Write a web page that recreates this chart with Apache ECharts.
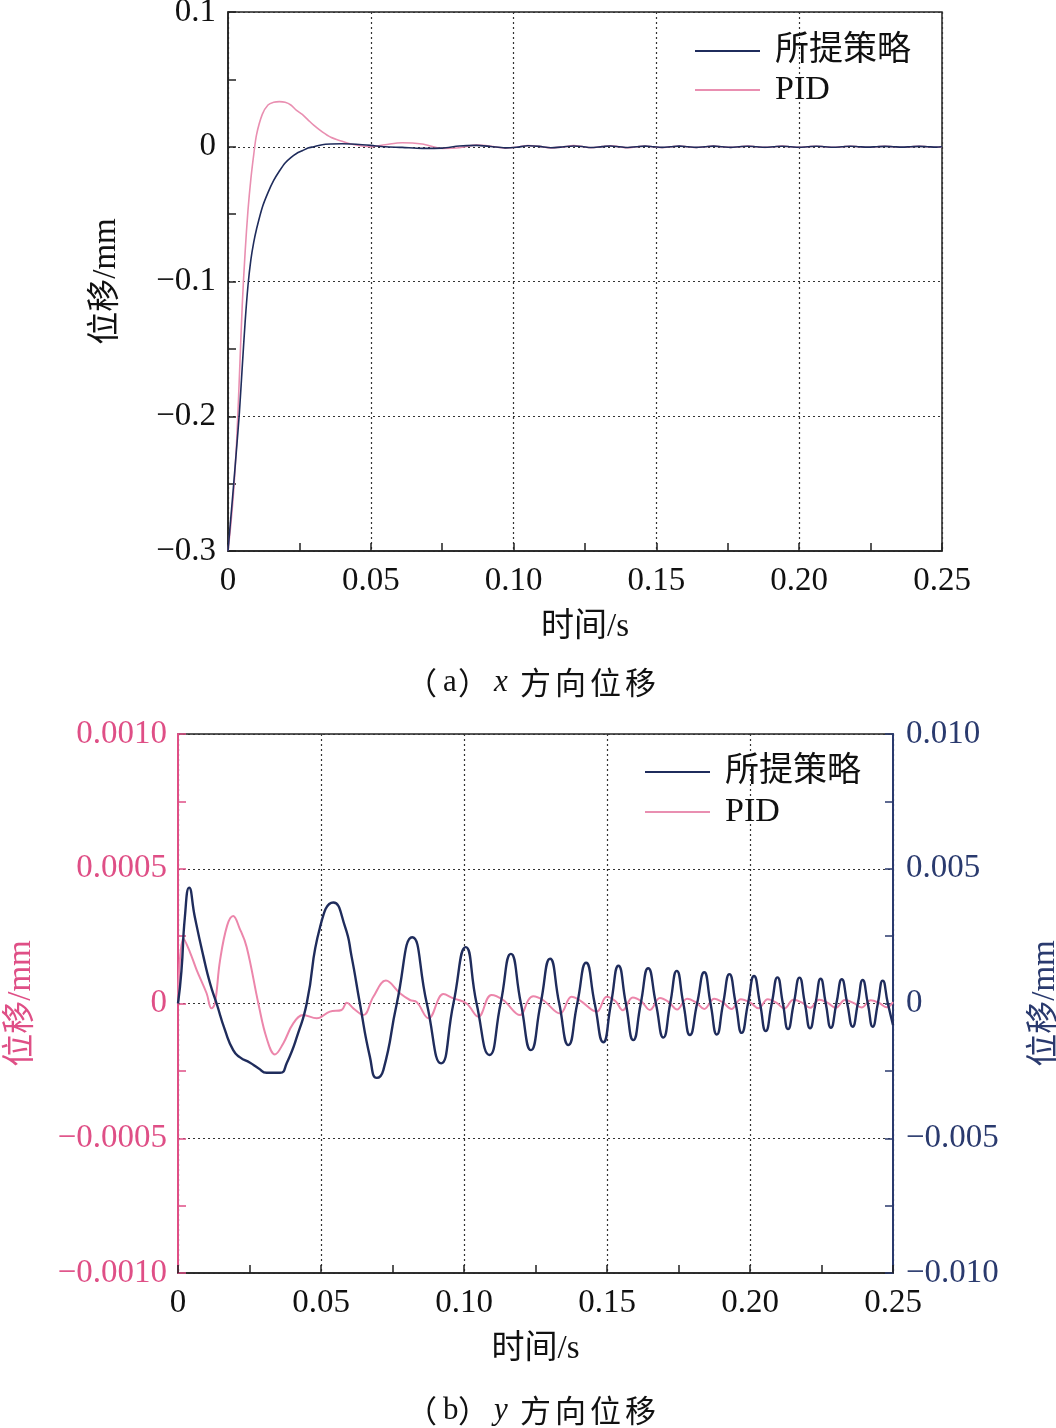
<!DOCTYPE html>
<html>
<head>
<meta charset="utf-8">
<script src="https://cdn.jsdelivr.net/npm/echarts@6/dist/echarts.min.js"></script>
<style>
html,body{margin:0;padding:0;background:#fff;}
#chart{width:1056px;height:1428px;}
</style>
</head>
<body>
<div id="chart"></div>
<script>
// ---------- (a) x-direction displacement ----------
const topTime = [0,0.001,0.002,0.003,0.004,0.005,0.006,0.007,0.008,0.009,0.010,0.012,0.014,0.016,0.018,0.020,0.022,0.024,0.026,0.028,0.030,0.033,0.036,0.040,0.043,0.047,0.050,
  0.055,0.061,0.068,0.075,0.081,0.087,0.092,0.097,0.101,0.105,0.109,0.113,0.117,0.121,0.124,0.127,0.131,0.134,0.137,0.140,0.143,0.146,0.149,0.152,0.155,0.158,
  0.161,0.164,0.167,0.170,0.173,0.176,0.179,0.182,0.185,0.188,0.191,0.194,0.197,0.200,0.203,0.206,0.209,0.212,0.215,0.218,0.221,0.224,0.227,0.230,0.233,0.236,
  0.239,0.242,0.245,0.248,0.250];
const topProposed = [-0.300,-0.275,-0.250,-0.224,-0.197,-0.163,-0.130,-0.103,-0.084,-0.071,-0.061,-0.045,-0.034,-0.025,-0.018,-0.012,-0.008,-0.005,-0.003,-0.001,0.000,0.0015,0.002,0.0022,0.002,0.0015,0.001,
  0.000,-0.0005,-0.0012,-0.0010,0.0006,0.0010,0.0002,-0.0008,-0.0004,0.0007,0.0003,-0.0007,-0.0002,0.0006,0.0002,-0.0006,0.0001,0.0006,0.0000,-0.0006,0.0000,0.0005,0.0000,-0.0005,0.0000,0.0005,
  0.0000,-0.0005,0.0000,0.0005,0.0000,-0.0005,0.0000,0.0004,0.0000,-0.0004,0.0000,0.0004,0.0000,-0.0004,0.0000,0.0004,0.0000,-0.0004,0.0000,0.0004,0.0000,-0.0003,0.0000,0.0003,0.0000,-0.0003,
  0.0000,0.0003,0.0000,-0.0003,0.0000];
const topPID = [-0.300,-0.280,-0.255,-0.220,-0.170,-0.117,-0.078,-0.047,-0.024,-0.006,0.009,0.024,0.031,0.033,0.0335,0.033,0.031,0.027,0.024,0.020,0.016,0.011,0.007,0.004,0.002,0.0005,0.000,
  0.0015,0.0030,0.0020,-0.0012,-0.0008,0.0012,0.0004,-0.0010,-0.0004,0.0009,0.0003,-0.0008,-0.0002,0.0008,0.0002,-0.0007,0.0001,0.0007,0.0000,-0.0007,0.0000,0.0006,0.0000,-0.0006,0.0000,0.0006,
  0.0000,-0.0006,0.0000,0.0005,0.0000,-0.0005,0.0000,0.0005,0.0000,-0.0005,0.0000,0.0005,0.0000,-0.0005,0.0000,0.0004,0.0000,-0.0004,0.0000,0.0004,0.0000,-0.0004,0.0000,0.0004,0.0000,-0.0004,
  0.0000,0.0004,0.0000,-0.0004,0.0000];

// ---------- (b) y-direction displacement ----------
const botProposedTime = [0,0.0012,0.0024,0.0039,0.0059,0.0089,0.0112,0.0135,0.0164,0.0193,0.0217,0.0252,0.0281,0.031,0.0357,0.038,0.042,0.045,0.0497,0.0543,0.0584,0.0607,0.0636,
  0.0671,0.0695,0.0718,0.0765,0.0819,0.087,0.092,0.0963,0.1006,0.1044,0.1089,0.1128,0.1164,0.1199,0.1234,0.1268,0.1301,0.1333,0.1365,0.1396,0.1427,0.1457,0.1487,0.1514,
  0.154,0.1566,0.1592,0.1618,0.1644,0.1671,0.1697,0.1721,0.1744,0.1767,0.179,0.1815,0.184,0.1862,0.1884,0.1906,0.1928,0.195,0.1971,0.1993,0.2014,0.2035,0.2055,0.2076,
  0.2096,0.2115,0.2133,0.2153,0.2173,0.2192,0.221,0.2229,0.2247,0.2265,0.2283,0.2302,0.2321,0.234,0.2359,0.2377,0.2394,0.2412,0.2429,0.2447,0.2464,0.2482,0.25];
const botProposed = [0,0.0012,0.0032,0.0043,0.0032,0.00174,0.00075,0,-0.00098,-0.00173,-0.0020,-0.0022,-0.0024,-0.00257,-0.00257,-0.00222,-0.0011,0,0.00285,0.00375,0.00285,0.00174,0,
  -0.00198,-0.00276,-0.00247,0,0.00246,0,-0.00222,0,0.00209,0,-0.00191,0,0.00184,0,-0.00173,0,0.00166,0,-0.00154,0,0.00151,0,-0.00144,0,
  0.0014,0,-0.00136,0,0.00131,0,-0.00126,0,0.00121,0,-0.00117,0,0.00116,0,-0.00115,0,0.00109,0,-0.00109,0,0.00102,0,-0.00102,0,
  0.00097,0,-0.00095,0,0.00096,0,-0.00092,0,0.00092,0,-0.0009,0,0.0009,0,-0.00086,0,0.00087,0,-0.00086,0,0.00085,0,-0.0008];
const botPIDTime = [0,0.0019,0.0042,0.0065,0.010,0.0117,0.0129,0.0147,0.0172,0.0193,0.0215,0.024,0.0281,0.031,0.0339,0.0368,0.0403,0.0438,0.0485,0.0531,0.0572,0.059,0.0613,
  0.0648,0.0683,0.0727,0.0776,0.0811,0.0835,0.0876,0.0928,0.0963,0.1009,0.105,0.1096,0.1137,0.1196,0.1225,0.1242,0.1277,0.1336,0.1376,0.1405,0.1464,0.1499,0.1530,
  0.1555,0.1590,0.1620,0.1650,0.1685,0.1715,0.1745,0.1780,0.1810,0.1840,0.1875,0.1905,0.1935,0.1968,0.2000,0.2030,0.2062,0.2092,0.2120,0.2152,0.2182,0.2210,0.2242,
  0.2272,0.2300,0.2332,0.2362,0.2390,0.2422,0.2452,0.2478,0.2500];
const botPID = [0,0.000242,0.00019,0.000125,0.000038,-0.000018,0,0.00016,0.00029,0.000325,0.00028,0.00021,0,-0.000129,-0.000189,-0.000148,-0.000074,-0.000043,-0.000055,-0.00003,-0.000024,0.000003,-0.000018,
  -0.000043,0.000025,0.000085,0.000038,0.000013,0.000005,-0.000055,0.000035,0.000019,0,-0.000049,0.000032,0.000013,-0.000043,0.000013,0.000027,0.000012,-0.000037,0.000025,0.000012,-0.00003,0.000025,0.000008,
  -0.000025,0.000022,0.000008,-0.000024,0.00002,0.000006,-0.000022,0.000018,0.000005,-0.00002,0.000018,0.000004,-0.00002,0.000016,0.000004,-0.000018,0.000016,0.000003,-0.000018,0.000014,0.000003,-0.000016,0.000014,
  0.000002,-0.000016,0.000013,0.000002,-0.000015,0.000012,0.000002,-0.000014,0.000005];

const seriesNames = ['所提策略', 'PID'];
const xTicks = ['0', '0.05', '0.10', '0.15', '0.20', '0.25'];
const topYTicks = ['−0.3', '−0.2', '−0.1', '0', '0.1'];
const botLeftTicks = ['−0.0010', '−0.0005', '0', '0.0005', '0.0010'];
const botRightTicks = ['−0.010', '−0.005', '0', '0.005', '0.010'];

const zip = (t, v) => t.map((x, i) => [x, v[i]]);
const FONT = "'Liberation Serif', 'Noto Sans CJK SC', serif";
const CJK = "'Noto Sans CJK SC', serif";
const NAVY = '#1f2c5c';
const PINK = '#e98fb1';
const PINK_AX = '#df4f86';
const NAVY_AX = '#2a3a6e';
const FS = 33;

function tickIdx(v, min, step) { return Math.round((v - min) / step); }

function xAxisCfg(gridIndex) {
  return {
    type: 'value', gridIndex: gridIndex, min: 0, max: 0.25, interval: 0.05,
    name: '时间/s', nameLocation: 'middle', nameGap: 60,
    nameTextStyle: { fontFamily: FONT, fontSize: FS, color: '#111' },
    axisLine: { show: true, onZero: false, lineStyle: { color: '#222', width: 1.5 } },
    axisTick: { show: true, inside: true, length: 8, lineStyle: { color: '#222', width: 1.5 } },
    minorTick: { show: true, splitNumber: 2, length: 8, lineStyle: { color: '#222', width: 1.5 } },
    axisLabel: { fontFamily: FONT, fontSize: FS, color: '#111', margin: 14,
      formatter: v => xTicks[tickIdx(v, 0, 0.05)] },
    splitLine: { show: true, lineStyle: { color: '#333', type: [2, 3], width: 1.2 } }
  };
}

const base = { fontSize: 31, fontWeight: 'normal', color: '#111' };
const richCap = {
  l: Object.assign({ fontFamily: CJK, width: 37, align: 'left' }, base),
  a: Object.assign({ fontFamily: FONT, width: 15, align: 'left' }, base),
  r: Object.assign({ fontFamily: CJK, width: 36, align: 'left' }, base),
  i: Object.assign({ fontFamily: FONT, fontStyle: 'italic', width: 26, align: 'left' }, base),
  c: Object.assign({ fontFamily: CJK, width: 35, align: 'left' }, base)
};

const option = {
  backgroundColor: '#fff',
  animation: false,
  title: [
    { text: '{l|（}{a|a}{r|）}{i|x}{c|方}{c|向}{c|位}{c|移}', left: 401, top: 662, textStyle: { fontWeight: 'normal', rich: richCap } },
    { text: '{l|（}{a|b}{r|）}{i|y}{c|方}{c|向}{c|位}{c|移}', left: 401, top: 1390, textStyle: { fontWeight: 'normal', rich: richCap } }
  ],
  grid: [
    { left: 228, top: 12, width: 714, height: 539, outerBoundsMode: 'none', containLabel: false,
      show: true, borderColor: '#222', borderWidth: 1.5, backgroundColor: 'transparent' },
    { left: 178, top: 734, width: 715, height: 539, outerBoundsMode: 'none', containLabel: false,
      show: true, borderColor: '#222', borderWidth: 1.5, backgroundColor: 'transparent' }
  ],
  legend: [
    { orient: 'vertical', left: 695, top: 34, padding: 0, itemWidth: 65, itemHeight: 2, itemGap: 5, icon: 'rect',
      data: seriesNames, textStyle: { fontFamily: FONT, fontSize: 34, color: '#111', lineHeight: 32, padding: [0, 0, 0, 10] } },
    { orient: 'vertical', left: 645, top: 755, padding: 0, itemWidth: 65, itemHeight: 2, itemGap: 6, icon: 'rect',
      data: seriesNames, textStyle: { fontFamily: FONT, fontSize: 34, color: '#111', lineHeight: 32, padding: [0, 0, 0, 10] } }
  ],
  xAxis: [ xAxisCfg(0), xAxisCfg(1) ],
  yAxis: [
    { type: 'value', gridIndex: 0, min: -0.3, max: 0.1, interval: 0.1,
      name: '位移/mm', nameLocation: 'middle', nameGap: 105, nameRotate: 90,
      nameTextStyle: { fontFamily: FONT, fontSize: FS, color: '#111' },
      axisLine: { show: true, lineStyle: { color: '#222', width: 1.5 } },
      axisTick: { show: true, inside: true, length: 8, lineStyle: { color: '#222', width: 1.5 } },
      minorTick: { show: true, splitNumber: 2, length: 8, lineStyle: { color: '#222', width: 1.5 } },
      axisLabel: { fontFamily: FONT, fontSize: FS, color: '#111', margin: 12,
        formatter: v => topYTicks[tickIdx(v, -0.3, 0.1)] },
      splitLine: { show: true, lineStyle: { color: '#333', type: [2, 3], width: 1.2 } } },
    { type: 'value', gridIndex: 1, position: 'left', min: -0.001, max: 0.001, interval: 0.0005,
      name: '位移/mm', nameLocation: 'middle', nameGap: 140, nameRotate: 90,
      nameTextStyle: { fontFamily: FONT, fontSize: FS, color: PINK_AX },
      axisLine: { show: true, lineStyle: { color: PINK_AX, width: 2 } },
      axisTick: { show: true, inside: true, length: 8, lineStyle: { color: PINK_AX, width: 1.5 } },
      minorTick: { show: true, splitNumber: 2, length: 8, lineStyle: { color: PINK_AX, width: 1.5 } },
      axisLabel: { fontFamily: FONT, fontSize: FS, color: PINK_AX, margin: 11,
        formatter: v => botLeftTicks[tickIdx(v, -0.001, 0.0005)] },
      splitLine: { show: true, lineStyle: { color: '#333', type: [2, 3], width: 1.2 } } },
    { type: 'value', gridIndex: 1, position: 'right', min: -0.01, max: 0.01, interval: 0.005,
      name: '位移/mm', nameLocation: 'middle', nameGap: 136, nameRotate: 90,
      nameTextStyle: { fontFamily: FONT, fontSize: FS, color: NAVY_AX },
      axisLine: { show: true, lineStyle: { color: NAVY_AX, width: 2 } },
      axisTick: { show: true, inside: true, length: 8, lineStyle: { color: NAVY_AX, width: 1.5 } },
      minorTick: { show: true, splitNumber: 2, length: 8, lineStyle: { color: NAVY_AX, width: 1.5 } },
      axisLabel: { fontFamily: FONT, fontSize: FS, color: NAVY_AX, margin: 13,
        formatter: v => botRightTicks[tickIdx(v, -0.01, 0.005)] },
      splitLine: { show: false } }
  ],
  series: [
    { name: 'PID', type: 'line', xAxisIndex: 0, yAxisIndex: 0, data: zip(topTime, topPID),
      showSymbol: false, smooth: 0.3, color: PINK, lineStyle: { color: PINK, width: 1.6 }, z: 3 },
    { name: '所提策略', type: 'line', xAxisIndex: 0, yAxisIndex: 0, data: zip(topTime, topProposed),
      showSymbol: false, smooth: 0.3, color: NAVY, lineStyle: { color: NAVY, width: 1.6 }, z: 4 },
    { name: 'PID', type: 'line', xAxisIndex: 1, yAxisIndex: 1, data: zip(botPIDTime, botPID),
      showSymbol: false, smooth: 0.4, color: PINK, lineStyle: { color: '#ec86ab', width: 2 }, z: 3 },
    { name: '所提策略', type: 'line', xAxisIndex: 1, yAxisIndex: 2, data: zip(botProposedTime, botProposed),
      showSymbol: false, smooth: 0.55, color: NAVY, lineStyle: { color: NAVY, width: 2.4 }, z: 4 }
  ]
};

const chart = echarts.init(document.getElementById('chart'), null, { renderer: 'canvas' });
chart.setOption(option);
</script>
</body>
</html>
